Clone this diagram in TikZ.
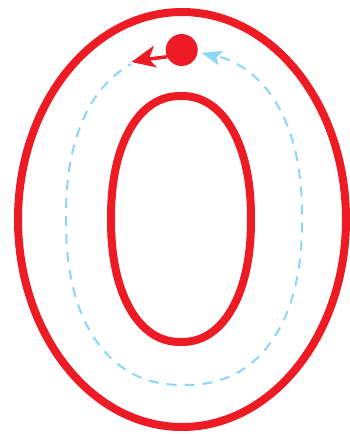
\documentclass[tikz,border=0pt]{standalone}
\usetikzlibrary{arrows.meta}
\definecolor{zred}{RGB}{237,28,36}
\definecolor{zblue}{RGB}{140,214,248}
\begin{document}
\begin{tikzpicture}[x=1pt,y=-1pt,
  ring/.style={draw=zred, line width=8pt},
  guide/.style={draw=zblue, line width=2pt, dash pattern=on 10pt off 8pt},
  ball/.style={circle, fill=zred, minimum size=32pt, inner sep=0pt},
  moveline/.style={draw=zred, line width=3.5pt}]
\useasboundingbox (0,0) rectangle (350,434);
% outer contour
\draw[ring] (182,219.5) ellipse [x radius=164pt, y radius=207.5pt];
% inner contour
\draw[ring] plot[domain=0:360, samples=240, variable=\t]
  ({181+70*cos(\t)*(abs(cos(\t))+0.0001)^(-0.09)},
   {219+123*sin(\t)*(abs(sin(\t))+0.0001)^(-0.09)}) -- cycle;
% dashed guide path
\draw[guide] plot[domain=-75:246.5, samples=240, variable=\t]
  ({184+118*cos(\t)*(abs(cos(\t))+0.0001)^(-0.13)},
   {218.5+166.5*sin(\t)*(abs(sin(\t))+0.0001)^(-0.13)});
% blue arrowhead
\coordinate (bt) at (201.7,53);
\coordinate (bu) at (223.3,50.7);
\coordinate (bn) at (216.5,57.5);
\coordinate (bl) at (218.3,65);
\fill[zblue] (bt) -- (bu) -- (bn) -- (bl) -- cycle;
% starting dot and direction arrow
\node[ball] (dot) at (181.7,50) {};
\coordinate (rt) at (131.5,62);
\coordinate (ru) at (154,45.5);
\coordinate (rn) at (149,59);
\coordinate (rl) at (157,67.5);
\draw[moveline] (dot.205) -- (rn);
\fill[zred] (rt) -- (ru) -- (rn) -- (rl) -- cycle;
\end{tikzpicture}
\end{document}
